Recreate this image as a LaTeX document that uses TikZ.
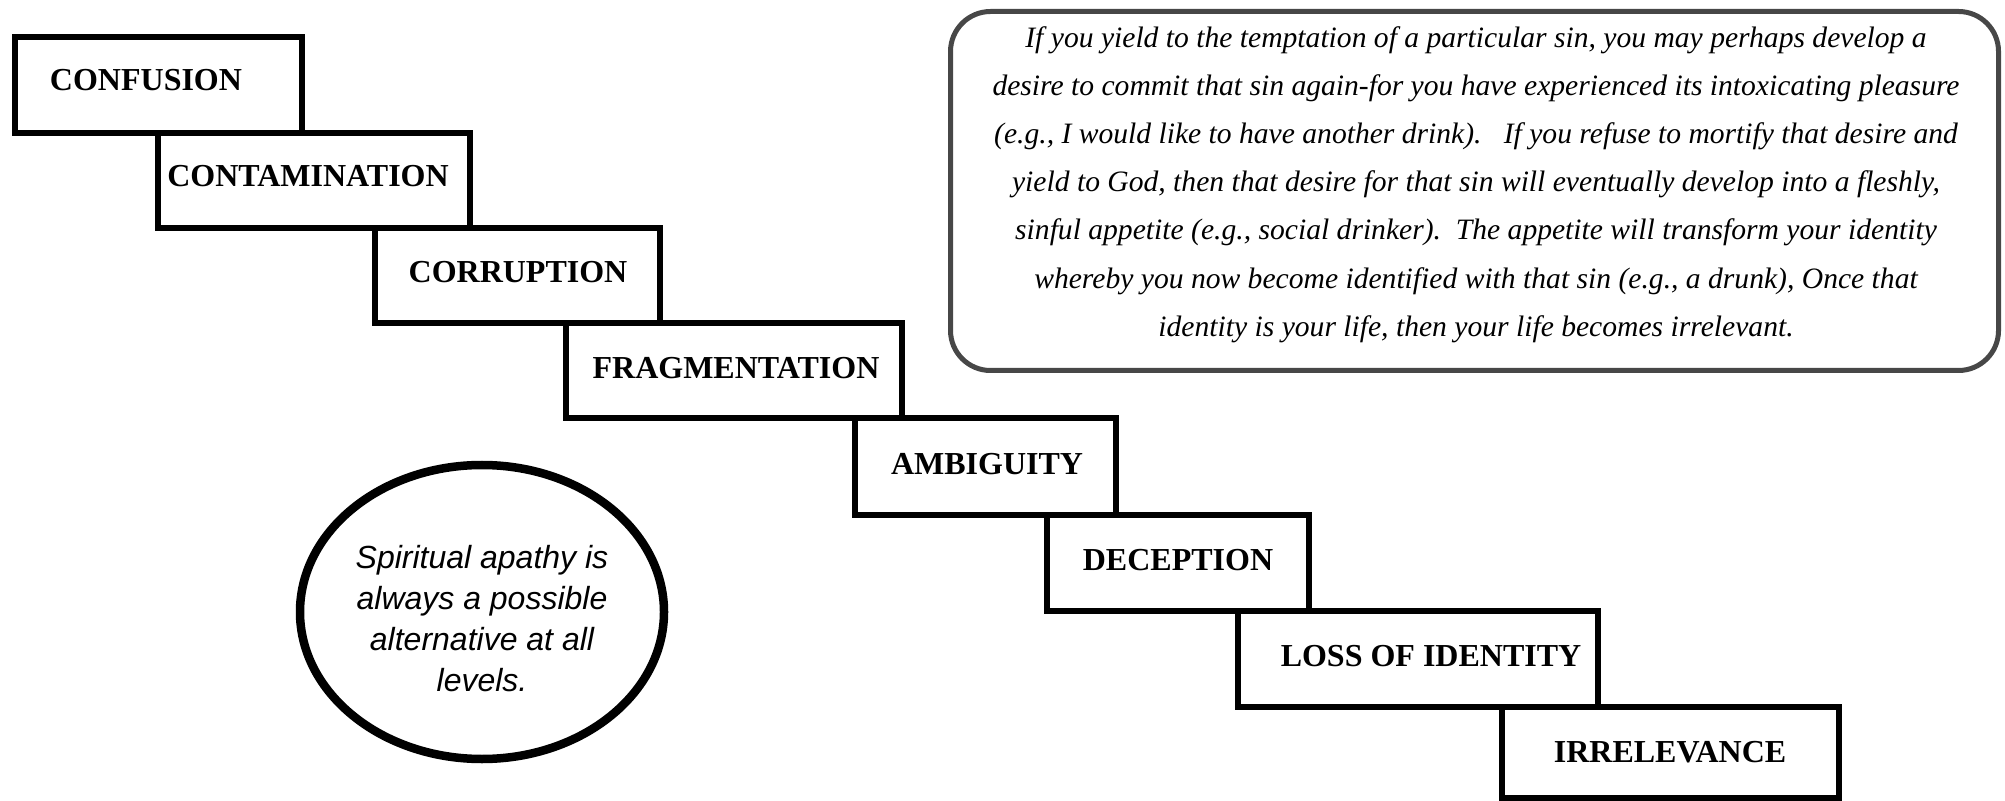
\documentclass[tikz,border=0pt]{standalone}
\usepackage{fontspec}
\setmainfont{Liberation Serif}
\newfontfamily\arialfont{Liberation Sans}
\usetikzlibrary{fit,shapes.geometric}
\begin{document}
\begin{tikzpicture}[x=0.5pt,y=-0.5pt,
  stepbox/.style={draw, line width=3pt, rectangle, inner sep=0pt, fill=white},
  steplabel/.style={font=\fontsize{16}{19}\selectfont\bfseries, inner sep=0pt},
  quotebox/.style={draw=black!72, line width=2.5pt, rounded corners=20pt, inner sep=0pt},
  quotetext/.style={font=\fontsize{14.8}{24.1}\selectfont\itshape, align=center, inner sep=0pt},
  apathy/.style={ellipse, draw, line width=4.25pt, minimum width=182pt, minimum height=147pt, inner sep=0pt},
  apathytext/.style={align=center, inner sep=0pt, font=\arialfont\itshape\fontsize{16}{20.5}\selectfont}]
\useasboundingbox (0,0) rectangle (2005,801);
% steps
\node[stepbox, fit={(15,37) (301.5,132.7)}] (b1) {};
\node[stepbox, fit={(158,132.7) (470,228.4)}] (b2) {};
\node[stepbox, fit={(375,228.4) (659.5,323.5)}] (b3) {};
\node[stepbox, fit={(566,323.5) (902,418.5)}] (b4) {};
\node[stepbox, fit={(855,418.5) (1116,515)}] (b5) {};
\node[stepbox, fit={(1047,515) (1309,611)}] (b6) {};
\node[stepbox, fit={(1237.5,611) (1597.5,706.9)}] (b7) {};
\node[stepbox, fit={(1501.5,706.9) (1839,798)}] (b8) {};
\node[steplabel] (t1) at (146,80.5) {CONFUSION};
\node[steplabel] (t2) at (308,176.5) {CONTAMINATION};
\node[steplabel] (t3) at (518,272) {CORRUPTION};
\node[steplabel] (t4) at (736,368) {FRAGMENTATION};
\node[steplabel] (t5) at (987,464) {AMBIGUITY};
\node[steplabel] (t6) at (1178,560) {DECEPTION};
\node[steplabel] (t7) at (1431,656) {LOSS OF IDENTITY};
\node[steplabel] (t8) at (1670,752) {IRRELEVANCE};
% quote box
\node[quotebox, fit={(950.5,11.5) (1998.5,370.5)}] (qbox) {};
\node[quotetext] (quote) at (1476,184.5) {If you yield to the temptation of a particular sin, you may perhaps develop a\\
desire to commit that sin again-for you have experienced its intoxicating pleasure\\
(e.g., I would like to have another drink).\ \ \ If you refuse to mortify that desire and\\
yield to God, then that desire for that sin will eventually develop into a fleshly,\\
sinful appetite (e.g., social drinker).\ \ The appetite will transform your identity\\
whereby you now become identified with that sin (e.g., a drunk), Once that\\
identity is your life, then your life becomes irrelevant.};
% ellipse
\node[apathy] (ell) at (482,612) {};
\node[apathytext] (ellt) at (482,618.5) {Spiritual apathy is\\always a possible\\alternative at all\\levels.};
\end{tikzpicture}
\end{document}
